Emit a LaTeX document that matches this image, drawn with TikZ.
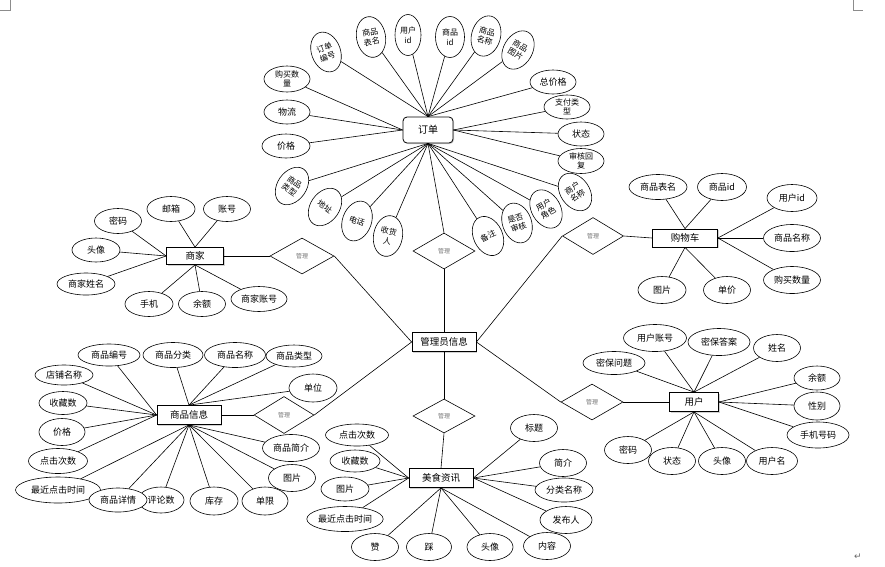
\documentclass[tikz,border=0pt]{standalone}
\usepackage{fontspec}
\setmainfont{Noto Sans CJK SC}
\newfontfamily\dejavu{DejaVu Sans}
\usetikzlibrary{shapes.geometric,shadows}
\begin{document}
\begin{tikzpicture}[x=1pt,y=-1pt,
 attr/.style={ellipse, draw, line width=0.6pt, inner sep=0pt, fill=white, align=center, font=\fontsize{9}{10.5}\selectfont},
 a/.style 2 args={attr, minimum width=#1pt, minimum height=#2pt},
 tall/.style={attr, minimum width=29pt, minimum height=41pt, font=\fontsize{8}{9.5}\selectfont},
 twol/.style={font=\fontsize{8}{9}\selectfont},
 ent/.style 2 args={rectangle, draw, line width=0.8pt, inner sep=0pt, fill=white, minimum width=#1pt, minimum height=#2pt, font=\fontsize{9.5}{11}\selectfont, drop shadow={shadow xshift=1pt, shadow yshift=-1pt, fill=black!35}},
 rel/.style 2 args={diamond, draw, line width=0.6pt, inner sep=0pt, fill=white, minimum width=#1pt, minimum height=#2pt, font=\fontsize{6}{7}\selectfont, text=black!55},
 ln/.style={line width=0.6pt}
]
\useasboundingbox (0,0) rectangle (885,566);
\fill[white] (0,0) rectangle (885,566);
% page marks
\draw[black!45, line width=0.5pt] (10,0) -- (10,10) -- (0,10);
\draw[black!45, line width=0.5pt] (853,0) -- (853,10) -- (863,10);
\node[text=black!60, font=\dejavu\fontsize{9}{10}\selectfont, inner sep=0pt] (ret) at (858,557) {↵};

% ---------- central ----------
\node[ent={64}{19}] (adm) at (444,342) {管理员信息};
\node[rel={62}{36}] (r1) at (444,251) {管理};
\node[rel={64}{36}] (r2) at (302,256) {管理};
\node[rel={61}{37}] (r3) at (593,236) {管理};
\node[rel={60}{37}] (r4) at (284,415) {管理};
\node[rel={62}{36}] (r5) at (592,402) {管理};
\node[rel={62}{34}] (r6) at (444,416) {管理};

% ---------- 订单 ----------
\node[ent={50}{26}, rounded corners=4pt, font=\fontsize{10}{12}\selectfont] (dd) at (428,130) {订单};
\node[a={46}{26}, twol] (d1) at (287,79) {购买数\\量};
\node[a={46}{24}] (d2) at (287,112) {物流};
\node[a={48}{24}] (d3) at (286,146) {价格};
\node[tall, rotate=20] (d4) at (326,52) {订单\\编号};
\node[tall, rotate=10] (d5) at (371,37) {商品\\表名};
\node[tall, minimum width=26pt] (d6) at (408,35) {用户\\id};
\node[tall] (d7) at (450,37) {商品\\id};
\node[tall, rotate=-15] (d8) at (486,36) {商品\\名称};
\node[tall, rotate=-30] (d9) at (518,50) {商品\\图片};
\node[a={46}{24}] (d10) at (553,82) {总价格};
\node[a={46}{24}, twol] (d11) at (567,107) {支付类\\型};
\node[a={46}{24}] (d12) at (581,134) {状态};
\node[a={46}{25}, twol] (d13) at (581,161) {审核回\\复};
\node[tall, rotate=35] (d14) at (575,192) {商户\\名称};
\node[tall, rotate=30] (d15) at (546,209) {用户\\角色};
\node[tall, rotate=20] (d16) at (517,223) {是否\\审核};
\node[tall, rotate=25] (d17) at (488,236) {备注};
\node[tall, rotate=-10] (d18) at (388,236) {收货\\人};
\node[tall, rotate=-20] (d19) at (357,221) {电话};
\node[tall, rotate=-35] (d20) at (325,207) {地址};
\node[tall, rotate=-35] (d21) at (292,186) {商品\\类型};
\foreach \n in {d1,d2,d3} \draw[ln] (dd.west) -- (\n);
\foreach \n in {d4,d5,d6,d7,d8,d9,d10} \draw[ln] (dd.north) -- (\n);
\foreach \n in {d11,d12,d13} \draw[ln] (dd.east) -- (\n);
\foreach \n in {d14,d15,d16,d17,d18,d19,d20,d21} \draw[ln] (dd.south) -- (\n);

% ---------- 商家 ----------
\node[ent={57}{17}] (sj) at (195,256) {商家};
\node[a={47}{25}] (s1) at (118,221) {密码};
\node[a={48}{25}] (s2) at (171,209) {邮箱};
\node[a={47}{25}] (s3) at (227,209) {账号};
\node[a={48}{24}] (s4) at (96,250) {头像};
\node[a={58}{22}] (s5) at (86,284) {商家姓名};
\node[a={48}{25}] (s6) at (149,304) {手机};
\node[a={47}{25}] (s7) at (202,304) {余额};
\node[a={56}{25}] (s8) at (259,299) {商家账号};
\foreach \n in {s2,s3} \draw[ln] (sj.north) -- (\n);
\foreach \n in {s1,s4,s5} \draw[ln] (sj.west) -- (\n);
\foreach \n in {s6,s7,s8} \draw[ln] (sj.south) -- (\n);

% ---------- 购物车 ----------
\node[ent={65}{18}] (gwc) at (685,238) {购物车};
\node[a={58}{25}] (g1) at (658,187) {商品表名};
\node[a={49}{27}] (g2) at (722,187) {商品id};
\node[a={50}{27}] (g3) at (792,198) {用户id};
\node[a={57}{27}] (g4) at (792,238) {商品名称};
\node[a={57}{27}] (g5) at (792,280) {购买数量};
\node[a={48}{27}] (g6) at (662,290) {图片};
\node[a={47}{27}] (g7) at (727,290) {单价};
\foreach \n in {g1,g2} \draw[ln] (gwc.north) -- (\n);
\foreach \n in {g3,g4,g5} \draw[ln] (gwc.east) -- (\n);
\foreach \n in {g6,g7} \draw[ln] (gwc.south) -- (\n);

% ---------- 用户 ----------
\node[ent={49}{19}] (yh) at (694,402) {用户};
\node[a={63}{27}] (u1) at (655,338) {用户账号};
\node[a={62}{27}] (u2) at (719,342) {密保答案};
\node[a={47}{27}] (u3) at (777,348) {姓名};
\node[a={62}{23}] (u4) at (614,363) {密保问题};
\node[a={46}{24}] (u5) at (817,378) {余额};
\node[a={46}{28}] (u6) at (817,406) {性别};
\node[a={62}{26}] (u7) at (818,435) {手机号码};
\node[a={47}{27}] (u8) at (628,450) {密码};
\node[a={47}{27}] (u9) at (672,461) {状态};
\node[a={47}{27}] (u10) at (722,461) {头像};
\node[a={51}{27}] (u11) at (772,461) {用户名};
\foreach \n in {u1,u2,u3,u4} \draw[ln] (yh.north) -- (\n);
\foreach \n in {u5,u6,u7} \draw[ln] (yh.east) -- (\n);
\foreach \n in {u8,u9,u10,u11} \draw[ln] (yh.south) -- (\n);

% ---------- 商品信息 ----------
\node[ent={64}{19}] (sp) at (189,415) {商品信息};
\node[a={62}{22}] (p1) at (109,355) {商品编号};
\node[a={60}{25}] (p2) at (173,355) {商品分类};
\node[a={61}{25}] (p3) at (235,355) {商品名称};
\node[a={56}{22}] (p4) at (294,356) {商品类型};
\node[a={48}{28}] (p5) at (313,388) {单位};
\node[a={58}{20}] (p6) at (64,375) {店铺名称};
\node[a={48}{23}] (p7) at (63,403) {收藏数};
\node[a={46}{27}] (p8) at (62,432) {价格};
\node[a={59}{25}] (p9) at (58,461) {点击次数};
\node[a={85}{26}] (p10) at (58,490) {最近点击时间};
\node[a={46}{26}] (p11) at (161,500) {评论数};
\node[a={58}{24}] (p12) at (118,500) {商品详情};
\node[a={48}{28}] (p13) at (214,501) {库存};
\node[a={46}{28}] (p14) at (265,501) {单限};
\node[a={47}{27}] (p15) at (292,478) {图片};
\node[a={57}{27}] (p16) at (291,448) {商品简介};
\foreach \n in {p2,p3,p4,p5} \draw[ln] (sp.north) -- (\n);
\foreach \n in {p1,p6,p7,p8,p9} \draw[ln] (sp.west) -- (\n);
\foreach \n in {p10,p11,p12,p13,p14,p15,p16} \draw[ln] (sp.south) -- (\n);

% ---------- 美食资讯 ----------
\node[ent={64}{19}] (ms) at (441,478) {美食资讯};
\node[a={63}{22}] (m1) at (357,435) {点击次数};
\node[a={50}{22}] (m2) at (355,461) {收藏数};
\node[a={48}{24}] (m3) at (345,489) {图片};
\node[a={76}{25}] (m4) at (345,519) {最近点击时间};
\node[a={47}{27}] (m5) at (375,547) {赞};
\node[a={45}{27}] (m6) at (429,547) {踩};
\node[a={46}{27}] (m7) at (490,547) {头像};
\node[a={47}{27}] (m8) at (547,546) {内容};
\node[a={47}{27}] (m9) at (534,428) {标题};
\node[a={47}{27}] (m10) at (563,463) {简介};
\node[a={58}{24}] (m11) at (564,490) {分类名称};
\node[a={52}{27}] (m12) at (566,520) {发布人};
\foreach \n in {m1,m2,m3,m4} \draw[ln] (ms.west) -- (\n);
\foreach \n in {m5,m6,m7,m8} \draw[ln] (ms.south) -- (\n);
\foreach \n in {m9,m10,m11,m12} \draw[ln] (ms.east) -- (\n);

% ---------- relationships ----------
\draw[ln] (dd.south) -- (r1.north);
\draw[ln] (r1.south) -- (adm.north);
\draw[ln] (sj.east) -- (r2.west);
\draw[ln] (r2.east) -- (adm.west);
\draw[ln] (r3.east) -- (gwc.west);
\draw[ln] (r3.west) -- (adm.east);
\draw[ln] (sp.east) -- (r4.west);
\draw[ln] (r4.east) -- (adm.west);
\draw[ln] (r5.east) -- (yh.west);
\draw[ln] (r5.west) -- (adm.east);
\draw[ln] (adm.south) -- (r6.north);
\draw[ln] (r6.south) -- (ms.north);
\end{tikzpicture}
\end{document}
